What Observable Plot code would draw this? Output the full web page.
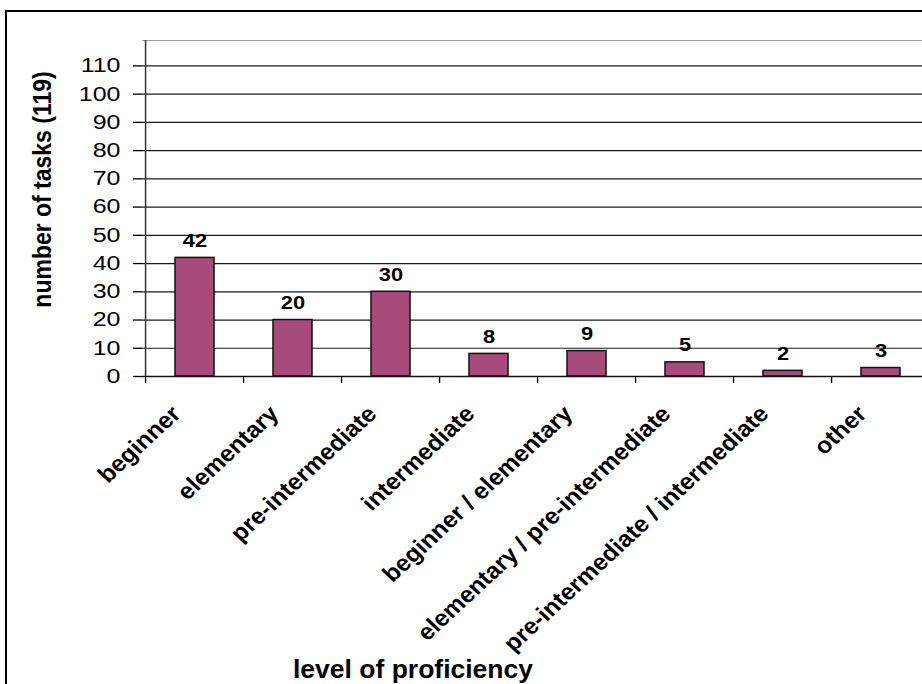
<!DOCTYPE html>
<html>
<head>
<meta charset="utf-8">
<script src="https://cdn.jsdelivr.net/npm/d3@7"></script>
<script src="https://cdn.jsdelivr.net/npm/@observablehq/plot@0.6"></script>
<style>
  html, body { margin: 0; padding: 0; background: #fff; overflow: hidden; }
  #border { position: absolute; left: 5px; top: 10px; width: 1000px; height: 800px;
            border: 2px solid #000; box-sizing: border-box; }
  #chart { position: absolute; left: 0; top: 0; }
</style>
</head>
<body>
<div id="border"></div>
<div id="chart"></div>
<script>
// Tasks by level of proficiency
const levels = [
  "beginner",
  "elementary",
  "pre-intermediate",
  "intermediate",
  "beginner / elementary",
  "elementary / pre-intermediate",
  "pre-intermediate / intermediate",
  "other"
];
const tasks = [42, 20, 30, 8, 9, 5, 2, 3];
const totalTasks = 119;
const yTicks = [0, 10, 20, 30, 40, 50, 60, 70, 80, 90, 100, 110];
const yTitle = "number of tasks (119)";
const xTitle = "level of proficiency";

const data = levels.map((level, i) => ({level, count: tasks[i]}));

const W = 922, H = 684;
const mL = 142, mR = -11, mT = 40, mB = 308;
const step = (W - mL - mR) / levels.length;
const font = "'Liberation Sans', Arial, Helvetica, sans-serif";

const chart = Plot.plot({
  width: W,
  height: H,
  marginLeft: mL,
  marginRight: mR,
  marginTop: mT,
  marginBottom: mB,
  style: {fontFamily: font, background: "transparent", color: "#000", overflow: "visible"},
  x: {domain: levels, paddingInner: 0.6, paddingOuter: 0.3, axis: null},
  y: {domain: [0, totalTasks], axis: null},
  marks: [
    Plot.gridY(yTicks.filter(d => d > 0), {stroke: "#1a1a1a", strokeOpacity: 1, strokeWidth: 1.2}),
    Plot.ruleY([totalTasks], {stroke: "#9a9a9a", strokeWidth: 1.2}),
    Plot.barY(data, {x: "level", y: "count", fill: "#a94b7a", stroke: "#111", strokeWidth: 1.5}),
    Plot.ruleY([0], {stroke: "#111", strokeWidth: 1.5}),
    Plot.ruleX([levels[0]], {y1: 0, y2: totalTasks, dx: -step / 2, stroke: "#333", strokeWidth: 1.5}),
    Plot.axisY({ticks: yTicks, label: null, tickSize: 9, tickPadding: 13, fontSize: 20, strokeWidth: 1.3}),
    Plot.axisX({label: null, tickSize: 7, tickFormat: () => "", dx: -step / 2, strokeWidth: 1.3}),
    Plot.axisX({
      label: null, tickSize: 0, tickRotate: -45, textAnchor: "end", lineAnchor: "bottom",
      dy: 27, dx: -13, fontSize: 23, fontWeight: "bold"
    }),
    Plot.text(data, {
      x: "level", y: "count", text: d => String(d.count),
      dy: -17, lineAnchor: "middle", fontSize: 19, fontWeight: "bold"
    }),
    Plot.text([yTitle], {
      frameAnchor: "left", text: d => d, rotate: -90, textAnchor: "middle",
      dx: -99.5, dy: -19, fontSize: 23, fontWeight: "bold"
    }),
    Plot.text([xTitle], {
      frameAnchor: "bottom", text: d => d, lineAnchor: "bottom",
      dx: -125, dy: 301, fontSize: 26.5, fontWeight: "bold"
    })
  ]
});

// The lettering of this chart is set a little wide: stretch each label
// horizontally (in screen space, so rotated labels keep their angle).
function widen(t, s) {
  const tr = t.getAttribute("transform");
  if (!tr || s === 1) return;
  const m = tr.match(/^\s*(translate\([^)]*\))(.*)$/);
  if (m) t.setAttribute("transform", `${m[1]} scale(${s},1)${m[2]}`);
}
chart.querySelectorAll("text").forEach(t => {
  const g = t.closest("g[aria-label]");
  const role = g ? g.getAttribute("aria-label") : "";
  const str = t.textContent;
  let s;
  if (role === "y-axis tick label") s = 1.25;
  else if (role === "x-axis tick label") s = 1.08;
  else if (str === yTitle) s = 1.1;
  else if (str === xTitle) s = 1.0;
  else s = 1.15;
  widen(t, s);
});

document.getElementById("chart").appendChild(chart);
</script>
</body>
</html>
